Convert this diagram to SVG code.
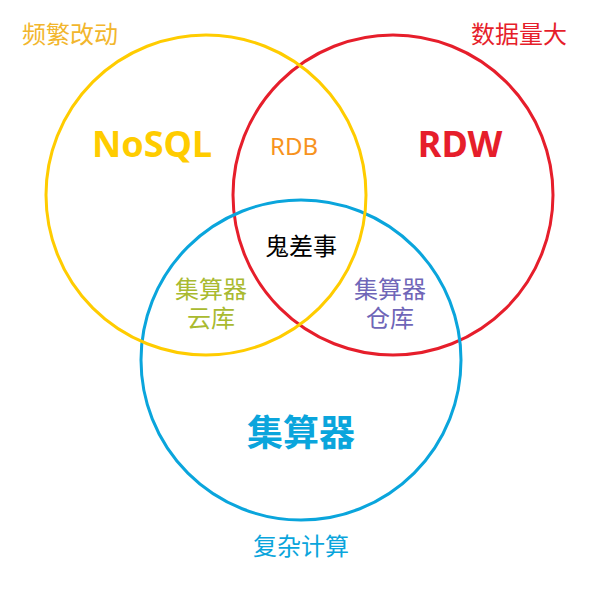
<svg xmlns="http://www.w3.org/2000/svg" width="600" height="600" viewBox="0 0 600 600">
<style>
text{font-family:"Noto Sans","Noto Sans CJK SC",sans-serif;text-anchor:middle}
.c{fill:none;stroke-width:3}
.s{font-size:24px}
.b{font-size:36px;font-weight:bold}
</style>
<rect width="600" height="600" fill="#fff"/>
<g id="connectors">
<circle id="red" class="c" cx="393" cy="195" r="160" stroke="#E61E2B"/>
<circle id="blue" class="c" cx="301" cy="360" r="160" stroke="#0AA5DC"/>
<circle id="yellow" class="c" cx="206" cy="195" r="160" stroke="#FFCC00"/>
</g>
<g id="n1"><text class="s" x="70" y="43" fill="#F2B62D">频繁改动</text></g>
<g id="n2"><text class="s" x="519" y="43" fill="#E61E2B">数据量大</text></g>
<g id="n3"><text class="b" x="152" y="157" fill="#FFCC00">NoSQL</text></g>
<g id="n4"><text class="s" x="294" y="155" fill="#F7931E">RDB</text></g>
<g id="n5"><text class="b" x="460" y="157" fill="#E61E2B">RDW</text></g>
<g id="n6"><text class="s" x="301" y="255" fill="#000">鬼差事</text></g>
<g id="n7"><text class="s" x="211" y="298" fill="#A9BA30">集算器</text><text class="s" x="211" y="327" fill="#A9BA30">云库</text></g>
<g id="n8"><text class="s" x="390" y="298" fill="#6F66B8">集算器</text><text class="s" x="390" y="327" fill="#6F66B8">仓库</text></g>
<g id="n9"><text class="b" x="301" y="446" fill="#0AA5DC">集算器</text></g>
<g id="n10"><text class="s" x="301" y="555" fill="#0AA5DC">复杂计算</text></g>
</svg>
